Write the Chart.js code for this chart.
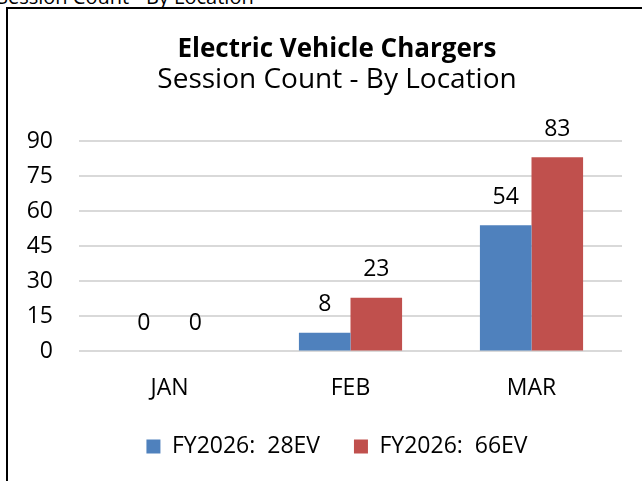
<!DOCTYPE html>
<html>
<head>
<meta charset="utf-8">
<script src="https://cdn.jsdelivr.net/npm/chart.js@4.4.1/dist/chart.umd.min.js"></script>
<style>
  html, body { margin: 0; padding: 0; background: #fff; overflow: hidden; }
  #caption {
    position: absolute; left: -3px; top: -17px;
    font-family: "Open Sans", sans-serif; font-size: 20px; color: #000;
    white-space: nowrap;
  }
  #frame {
    position: absolute; left: 6px; top: 7px; width: 700px; height: 520px;
    border-top: 2px solid #000; border-left: 2px solid #000;
  }
  #wrap { position: absolute; left: 0; top: 0; width: 690px; height: 481px; }
</style>
</head>
<body>
<div id="caption">Session Count - By Location</div>
<div id="frame"></div>
<div id="wrap"><canvas id="myChart" width="690" height="481"></canvas></div>
<script>
const categories = ["JAN", "FEB", "MAR"];
const seriesNames = ["FY2026:  28EV", "FY2026:  66EV"];
const series28 = [0, 8, 54];
const series66 = [0, 23, 83];
const yTicks = [0, 15, 30, 45, 60, 75, 90];

const fontFamily = "'Open Sans', sans-serif";

// draws the value above each bar
const valueLabels = {
  id: "valueLabels",
  afterDatasetsDraw(chart) {
    const ctx = chart.ctx;
    ctx.save();
    ctx.font = "23px " + fontFamily;
    ctx.fillStyle = "#000";
    ctx.textAlign = "center";
    ctx.textBaseline = "middle";
    chart.data.datasets.forEach((ds, i) => {
      chart.getDatasetMeta(i).data.forEach((bar, j) => {
        ctx.fillText(ds.data[j], bar.x, bar.y - 28);
      });
    });
    ctx.restore();
  },
};

function iniciarGrafica() {
  var ctx = document.getElementById("myChart").getContext("2d");
  var myChart = new Chart(ctx, {
    type: "bar",
    data: {
      labels: categories,
      datasets: [
        {
          label: seriesNames[0],
          data: series28,
          backgroundColor: "#4F81BD",
        },
        {
          label: seriesNames[1],
          data: series66,
          backgroundColor: "#C0504D",
        },
      ],
    },
    options: {
      responsive: false,
      animation: false,
      layout: {
        padding: { left: 20, right: 36, top: 37, bottom: 13 },
      },
      datasets: {
        bar: { barPercentage: 1, categoryPercentage: 0.57 },
      },
      scales: {
        x: {
          grid: { display: false, drawTicks: false },
          border: { display: false },
          ticks: {
            color: "#000",
            font: { family: fontFamily, size: 23, lineHeight: 1.46 },
            padding: 20,
          },
        },
        y: {
          min: 0,
          max: 90,
          ticks: {
            stepSize: 15,
            color: "#000",
            font: { family: fontFamily, size: 23 },
            padding: 26,
            callback: (v) => (yTicks.includes(v) ? String(v) : ""),
          },
          afterFit: (scale) => {
            scale.width = 59;
          },
          grid: { color: "#d9d9d9", lineWidth: 2, drawTicks: false },
          border: { display: false },
        },
        // empty axis on the right so the title sits where the original has it
        yRight: {
          position: "right",
          display: true,
          grid: { display: false, drawTicks: false },
          border: { display: false },
          ticks: { display: false },
          afterFit: (scale) => {
            scale.width = 32;
          },
        },
      },
      plugins: {
        title: {
          display: true,
          text: "Electric Vehicle Chargers",
          color: "#000",
          font: { family: fontFamily, size: 26, weight: "bold", lineHeight: 1.0 },
          padding: { top: 0, bottom: 0 },
        },
        subtitle: {
          display: true,
          text: "Session Count - By Location",
          color: "#000",
          font: { family: fontFamily, size: 28, weight: "normal", lineHeight: 1.0 },
          padding: { top: 3, bottom: 47 },
        },
        legend: {
          position: "bottom",
          labels: {
            color: "#000",
            boxWidth: 14,
            boxHeight: 14,
            padding: 10,
            font: { family: fontFamily, size: 23 },
            // wider gap between the two entries than between the rows
            generateLabels: (chart) => {
              const items = Chart.defaults.plugins.legend.labels.generateLabels(chart);
              items.forEach((it, k) => {
                if (k < items.length - 1) it.text = it.text + "    ";
              });
              return items;
            },
          },
        },
        tooltip: { enabled: false },
      },
    },
    plugins: [valueLabels],
  });
}

iniciarGrafica();
</script>
</body>
</html>
